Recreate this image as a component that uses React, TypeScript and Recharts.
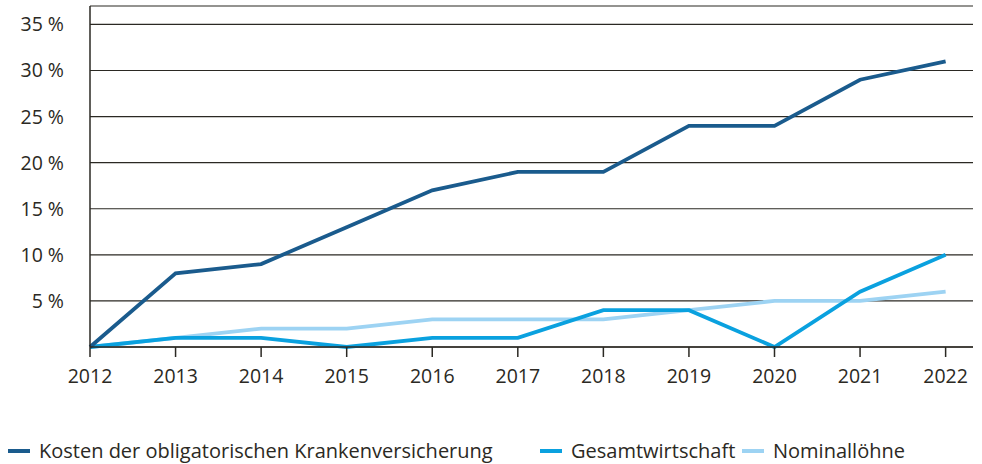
import React from 'react'
import { LineChart, Line, XAxis, YAxis, CartesianGrid } from 'recharts'

const years = [2012, 2013, 2014, 2015, 2016, 2017, 2018, 2019, 2020, 2021, 2022]
const kosten = [0, 8, 9, 13, 17, 19, 19, 24, 24, 29, 31]
const gesamt = [0, 1, 1, 0, 1, 1, 4, 4, 0, 6, 10]
const nominal = [0, 1, 2, 2, 3, 3, 3, 4, 5, 5, 6]
const yTicks = [5, 10, 15, 20, 25, 30, 35]

const series = [
  { key: 'kosten', name: 'Kosten der obligatorischen Krankenversicherung', color: '#1a5b8d', x: 8 },
  { key: 'gesamt', name: 'Gesamtwirtschaft', color: '#0aa1df', x: 540 },
  { key: 'nominal', name: 'Nominallöhne', color: '#9dd3f3', x: 742 },
]

const data = years.map((year, i) => ({
  year,
  kosten: kosten[i],
  gesamt: gesamt[i],
  nominal: nominal[i],
}))

const ink = '#2b2923'
const font = '"Open Sans", sans-serif'

const App = () => {
  return (
    <div style={{ position: 'absolute', left: 0, top: 0, width: 982, height: 464, background: '#fff', fontFamily: font }}>
      <LineChart width={982} height={464} data={data} margin={{ top: 6, right: 9, left: 0, bottom: 77 }}>
        <CartesianGrid vertical={false} stroke={ink} strokeWidth={1.2} strokeOpacity={1} />
        <XAxis
          dataKey="year"
          type="number"
          domain={[2012, 2022.32]}
          ticks={years}
          height={40}
          stroke={ink}
          strokeWidth={1.5}
          tickSize={10}
          tickMargin={12}
          tick={{ fill: ink, fontSize: 19.5, fontFamily: font }}
        />
        <YAxis
          domain={[0, 37]}
          ticks={yTicks}
          width={90}
          stroke={ink}
          strokeWidth={1.5}
          tickLine={false}
          tickMargin={20}
          tickFormatter={(v) => `${v} %`}
          tick={{ fill: ink, fontSize: 19.5, fontFamily: font }}
        />
        <Line dataKey="nominal" stroke="#9dd3f3" strokeWidth={3.8} dot={false} isAnimationActive={false} />
        <Line dataKey="gesamt" stroke="#0aa1df" strokeWidth={3.8} dot={false} isAnimationActive={false} />
        <Line dataKey="kosten" stroke="#1a5b8d" strokeWidth={3.8} dot={false} isAnimationActive={false} />
      </LineChart>
      {series.map((s) => (
        <div key={s.key} style={{ position: 'absolute', left: s.x, top: 440, height: 22, lineHeight: '22px', display: 'flex', alignItems: 'center', fontSize: 20, color: ink, whiteSpace: 'nowrap' }}>
          <span style={{ display: 'inline-block', width: 22, height: 4, background: s.color, marginRight: 9 }} />
          {s.name}
        </div>
      ))}
    </div>
  )
}

export default App
